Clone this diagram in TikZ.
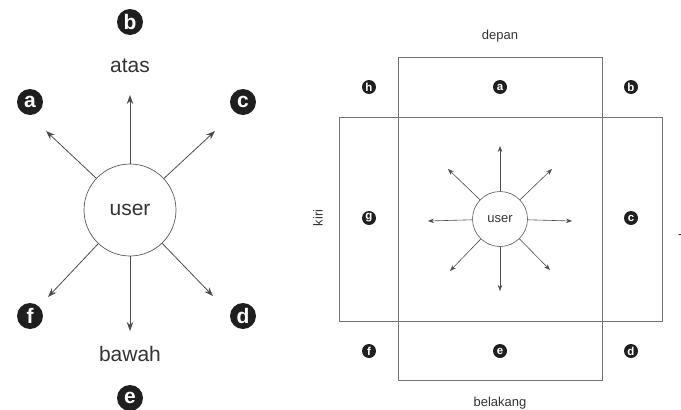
\documentclass[tikz,border=0pt]{standalone}
\usepackage{fontspec}
\setmainfont{Liberation Sans}
\usetikzlibrary{arrows.meta}
\begin{document}
\begin{tikzpicture}[x=1pt,y=-1pt,
  badge/.style={circle,fill=black!88,text=white,inner sep=0pt,minimum size=#1},
  bigbadge/.style={badge=26pt,font=\fontsize{21}{21}\selectfont\bfseries},
  smallbadge/.style={badge=14pt,font=\fontsize{11.5}{11.5}\selectfont\bfseries},
  biglabel/.style={font=\fontsize{21}{24}\selectfont,text=black!80},
  smalllabel/.style={font=\fontsize{13}{15}\selectfont,text=black!80},
  bigarrow/.style={draw=black!70,line width=0.8pt,-{Stealth[length=9pt,width=6.5pt]}},
  smallarrow/.style={draw=black!70,line width=0.6pt,-{Stealth[length=6pt,width=4.5pt]}},
  room/.style={draw=black!55,line width=0.7pt}]
\useasboundingbox (0,0) rectangle (681,410);

% ---------- up/down view ----------
\node[circle,draw=black!65,line width=0.7pt,minimum size=92pt,inner sep=0pt,biglabel] (u1) at (130,210) {user};
\node[bigbadge] (lb) at (130,22) {b};
\node[biglabel] (atas) at (130,66) {atas};
\node[bigbadge] (la) at (30,102) {a};
\node[bigbadge] (lc) at (243,102) {c};
\node[bigbadge] (lf) at (30,316) {f};
\node[bigbadge] (ld) at (243,316) {d};
\node[biglabel] (bawah) at (130,354) {bawah};
\node[bigbadge] (le) at (130,398) {e};

\coordinate (tu) at (130,95);
\coordinate (tul) at (46,131);
\coordinate (tur) at (215,131);
\coordinate (tdl) at (48,297);
\coordinate (tdr) at (213,296);
\coordinate (td) at (130,331);
\foreach \t in {tu,tul,tur,tdl,tdr,td}
  \draw[bigarrow] (u1) -- (\t);

% ---------- top view ----------
\draw[room] (398,57) rectangle (602,380);
\draw[room] (339,117) rectangle (662,321);

\node[smalllabel] (depan) at (500,36) {depan};
\node[smalllabel] (belakang) at (500,403) {belakang};
\node[smalllabel,rotate=90] (kiri) at (318,218) {kiri};
\node[smalllabel,rotate=90,anchor=north,inner sep=0pt] (kanan) at (678.5,219) {kanan};

\node[smallbadge] (rh) at (369,87) {h};
\node[smallbadge] (ra) at (500,87) {a};
\node[smallbadge] (rb) at (631,87) {b};
\node[smallbadge] (rg) at (369,218) {g};
\node[smallbadge] (rc) at (631,218) {c};
\node[smallbadge] (rf) at (369,351) {f};
\node[smallbadge] (re) at (500,351) {e};
\node[smallbadge] (rd) at (631,351) {d};

\node[circle,draw=black!65,line width=0.6pt,minimum size=55pt,inner sep=0pt,smalllabel] (u2) at (500,219) {user};

\coordinate (su) at (500,146);
\coordinate (sl) at (428,221);
\coordinate (sr) at (572,221);
\coordinate (sd) at (500,291);
\coordinate (sul) at (448,169);
\coordinate (sur) at (552,169);
\coordinate (sdl) at (450,271);
\coordinate (sdr) at (550,270);
\foreach \t in {su,sl,sr,sd,sul,sur,sdl,sdr}
  \draw[smallarrow] (u2) -- (\t);
\end{tikzpicture}
\end{document}
